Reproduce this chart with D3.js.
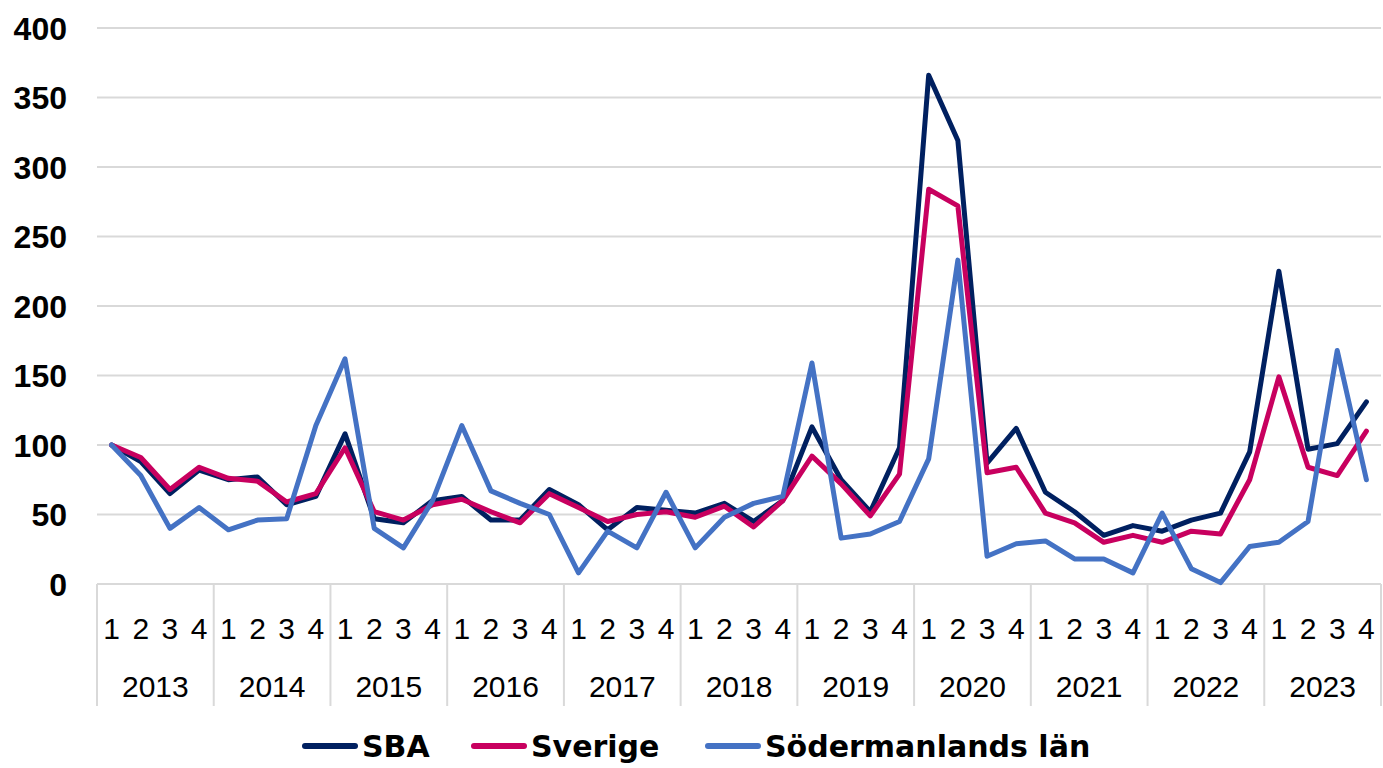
<!DOCTYPE html>
<html>
<head>
<meta charset="utf-8">
<script src="https://cdnjs.cloudflare.com/ajax/libs/d3/7.8.5/d3.min.js"></script>
<style>
  body { margin: 0; background: #fff; }
  svg { display: block; }
</style>
</head>
<body>
<svg id="chart" width="1383" height="768"></svg>
<script>
// years and quarters on the two-level x axis
let years = ["2013","2014","2015","2016","2017","2018","2019","2020","2021","2022","2023"]
let quarters = ["1","2","3","4"]
let yTicks = [0, 50, 100, 150, 200, 250, 300, 350, 400]

// series values, one per quarter (2013 Q1 .. 2023 Q4)
let sba = [100,88,65,82, 75,77,57,63, 108,47,44,60, 63,46,46,68, 57,39,55,53, 51,58,45,60,
           113,75,52,98, 366,319,87,112, 66,52,35,42, 38,46,51,95, 225,97,101,131]
let sverige = [100,91,68,84, 76,74,59,65, 98,52,46,57, 61,52,44,65, 55,45,50,52, 48,56,41,60,
               92,72,49,79, 284,272,80,84, 51,44,30,35, 30,38,36,75, 149,84,78,110]
let sodermanland = [100,78,40,55, 39,46,47,114, 162,40,26,60, 114,67,58,50, 8,38,26,66, 26,48,58,63,
                    159,33,36,45, 90,233,20,29, 31,18,18,8, 51,11,1,27, 30,45,168,75]

let seriesNames = ["SBA", "Sverige", "Södermanlands län"]
let seriesColors = ["#002060", "#c8005f", "#4472c4"]

let keys = []
years.forEach(y => quarters.forEach(q => keys.push(y + "-" + q)))
let series = [sba, sverige, sodermanland].map((vals, i) => ({
    name: seriesNames[i], color: seriesColors[i],
    points: vals.map((v, j) => ({ key: keys[j], value: v }))
}))

let svg = d3.select("#chart")
let plotLeft = 97, plotRight = 1381, plotTop = 28, plotBottom = 584

let x = d3.scaleBand().domain(keys).range([plotLeft, plotRight])
let xYear = d3.scaleBand().domain(years).range([plotLeft, plotRight])
let y = d3.scaleLinear().domain([0, 400]).range([plotBottom, plotTop])

let gridColor = "#d9d9d9"

// horizontal gridlines
svg.append("g")
    .selectAll("line")
    .data(yTicks.filter(t => t > 0))
    .join("line")
    .attr("x1", plotLeft).attr("x2", plotRight)
    .attr("y1", d => y(d)).attr("y2", d => y(d))
    .attr("stroke", gridColor).attr("stroke-width", 2)

// y axis labels
svg.append("g")
    .selectAll("text")
    .data(yTicks)
    .join("text")
    .attr("x", 67)
    .attr("y", d => y(d))
    .attr("dy", "0.36em")
    .attr("text-anchor", "end")
    .style("font-family", "'Liberation Sans', Arial, sans-serif")
    .style("font-weight", "bold")
    .style("font-size", "32px")
    .text(d => d)

// x axis base line and year separators
svg.append("line")
    .attr("x1", plotLeft).attr("x2", plotRight)
    .attr("y1", plotBottom).attr("y2", plotBottom)
    .attr("stroke", gridColor).attr("stroke-width", 2)

let bounds = years.map(yr => xYear(yr)).concat([plotRight])
svg.append("g")
    .selectAll("line")
    .data(bounds)
    .join("line")
    .attr("x1", d => d).attr("x2", d => d)
    .attr("y1", plotBottom).attr("y2", 706)
    .attr("stroke", gridColor).attr("stroke-width", 2)

let axisFont = "'Liberation Sans', Arial, sans-serif"

// quarter labels
svg.append("g")
    .selectAll("text")
    .data(keys)
    .join("text")
    .attr("x", d => x(d) + x.bandwidth() / 2)
    .attr("y", 628)
    .attr("dy", "0.36em")
    .attr("text-anchor", "middle")
    .style("font-family", axisFont)
    .style("font-size", "30px")
    .text(d => d.split("-")[1])

// year labels
svg.append("g")
    .selectAll("text")
    .data(years)
    .join("text")
    .attr("x", d => xYear(d) + xYear.bandwidth() / 2)
    .attr("y", 686)
    .attr("dy", "0.36em")
    .attr("text-anchor", "middle")
    .style("font-family", axisFont)
    .style("font-size", "30px")
    .text(d => d)

// lines
let line = d3.line()
    .x(d => x(d.key) + x.bandwidth() / 2)
    .y(d => y(d.value))

svg.append("g")
    .selectAll("path")
    .data(series)
    .join("path")
    .attr("d", d => line(d.points))
    .attr("fill", "none")
    .attr("stroke", d => d.color)
    .attr("stroke-width", 5)
    .attr("stroke-linejoin", "round")
    .attr("stroke-linecap", "round")

// legend
let legendX = [305, 474, 708]
let legend = svg.append("g")
    .selectAll("g")
    .data(series)
    .join("g")
    .attr("transform", (d, i) => "translate(" + legendX[i] + ",746)")
legend.append("line")
    .attr("x1", 0).attr("x2", 50)
    .attr("y1", 0).attr("y2", 0)
    .attr("stroke", d => d.color)
    .attr("stroke-width", 6)
    .attr("stroke-linecap", "round")
legend.append("text")
    .attr("x", 57)
    .attr("y", 0)
    .attr("dy", "0.36em")
    .style("font-family", "'DejaVu Sans', sans-serif")
    .style("font-weight", "bold")
    .style("font-size", "30px")
    .text(d => d.name)
</script>
</body>
</html>
